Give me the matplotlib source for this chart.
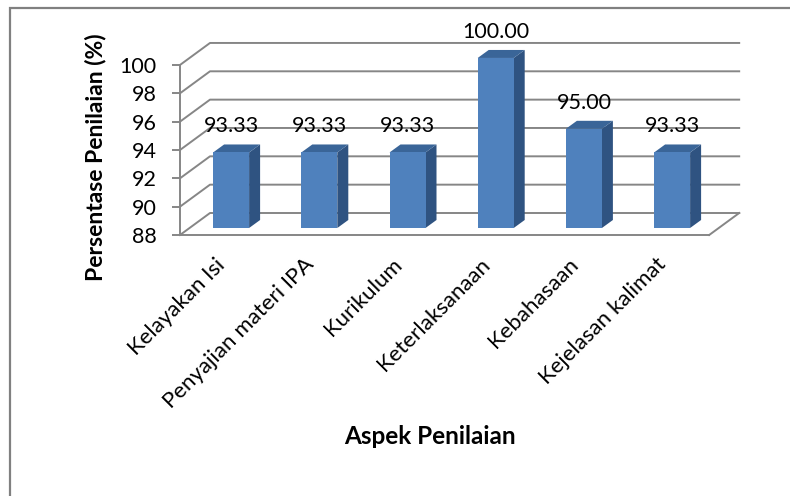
import matplotlib.pyplot as plt
from matplotlib.patches import Polygon, Rectangle
from matplotlib.transforms import ScaledTranslation

aspek = ['Kelayakan Isi', 'Penyajian materi IPA', 'Kurikulum',
         'Keterlaksanaan', 'Kebahasaan', 'Kejelasan kalimat']
persen = [93.33, 93.33, 93.33, 100.00, 95.00, 93.33]
y_ticks = [88, 90, 92, 94, 96, 98, 100]

plt.rcParams['font.family'] = ['Lato', 'DejaVu Sans']

W, H, DPI = 790, 496, 100
fig = plt.figure(figsize=(W / DPI, H / DPI), dpi=DPI)

# pixel layout of the front plane
px_left, px_right, px_bottom, px_top = 180, 745, 235, 30
px_per_cat, px_per_unit = 88.2, 14.17
x0 = -0.5
x1 = x0 + (px_right - px_left) / px_per_cat
y0 = 88
y1 = y0 + (px_bottom - px_top) / px_per_unit

ax = fig.add_axes([px_left / W, 1 - px_bottom / H,
                   (px_right - px_left) / W, (px_bottom - px_top) / H])
ax.set_xlim(x0, x1)
ax.set_ylim(y0, y1)

# 3D offsets (in data units)
DX, DY = 30 / px_per_cat, 22 / px_per_unit        # floor / back wall depth
OX, OY = 7 / px_per_cat, 7 / px_per_unit          # bar set-back
BX, BY = 11 / px_per_cat, 8 / px_per_unit         # bar depth
BW = 36 / px_per_cat

grid_c = '#868686'
n = len(aspek)

# back wall gridlines with the diagonal on the side wall
for v in y_ticks:
    ax.plot([x0, x0 + DX, n - 0.5 + DX], [v, v + DY, v + DY],
            color=grid_c, lw=1.4, zorder=1, clip_on=False)
# right edge of the floor
ax.plot([n - 0.5, n - 0.5 + DX], [y0, y0 + DY], color=grid_c, lw=1.4,
        zorder=1, clip_on=False)

front_c, side_c, top_c = '#4F81BD', '#2F5381', '#3A6598'
for i, v in enumerate(persen):
    xl = i - BW / 2 + OX
    xr = xl + BW
    yb = y0 + OY
    yt = v + OY
    ax.add_patch(Polygon([[xr, yb], [xr + BX, yb + BY], [xr + BX, yt + BY], [xr, yt]],
                         closed=True, facecolor=side_c, edgecolor='none', zorder=3))
    ax.add_patch(Polygon([[xl, yt], [xr, yt], [xr + BX, yt + BY], [xl + BX, yt + BY]],
                         closed=True, facecolor=top_c, edgecolor='none', zorder=3))
    ax.add_patch(Rectangle((xl, yb), BW, yt - yb, facecolor=front_c,
                           edgecolor='none', zorder=4))
    ax.text(i + OX, yt + 26 / px_per_unit, f'{v:.2f}', ha='center', va='center',
            fontsize=15.5, color='#000000', zorder=5)

for s in ['top', 'right']:
    ax.spines[s].set_visible(False)
ax.spines['left'].set_bounds(y0, 100)
ax.spines['bottom'].set_bounds(x0, n - 0.5)
for s in ['left', 'bottom']:
    ax.spines[s].set_color(grid_c)
    ax.spines[s].set_linewidth(1.4)

ax.set_yticks(y_ticks)
ax.tick_params(axis='y', length=5.8, width=1.4, color=grid_c, pad=11,
               labelsize=15.5)
ax.set_xticks(range(n))
ax.set_xticklabels(aspek, rotation=45, ha='right', rotation_mode='anchor',
                   fontsize=16)
ax.tick_params(axis='x', length=0, pad=14)
shift = ScaledTranslation(-9 / DPI, 0, fig.dpi_scale_trans)
for lbl in ax.get_xticklabels():
    lbl.set_transform(lbl.get_transform() + shift)
ax.patch.set_visible(False)

fig.text(95 / W, 1 - 157 / H, 'Persentase Penilaian (%)', rotation=90,
         ha='center', va='center', fontsize=16.5, fontweight='bold')
fig.text(430 / W, 1 - 437 / H, 'Aspek Penilaian', ha='center', va='center',
         fontsize=17.5, fontweight='bold')

# chart area border
fig.add_artist(Rectangle((10 / W, -0.1), 1.2, 1 - 8 / H + 0.1,
                         transform=fig.transFigure, fill=False,
                         edgecolor='#808080', lw=1.6))

fig.savefig('out.png', dpi=DPI)
